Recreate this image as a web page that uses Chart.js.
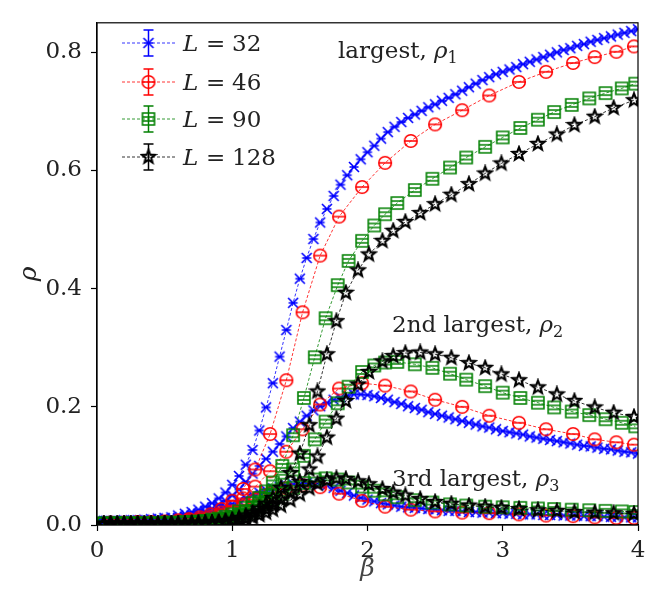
<!DOCTYPE html>
<html>
<head>
<meta charset="utf-8">
<script src="https://cdn.jsdelivr.net/npm/chart.js@4.4.1/dist/chart.umd.min.js"></script>
<style>
  html, body { margin: 0; padding: 0; background: #fff; }
</style>
</head>
<body>
<canvas id="rho-chart" width="654" height="606"></canvas>
<script>
// axis ticks
var xTicks = [0, 1, 2, 3, 4];
var yTicks = [0, 0.2, 0.4, 0.6, 0.8];
var sizes = ['32', '46', '90', '128'];

// L = 32
var beta32 = [0, 0.05, 0.1, 0.15, 0.2, 0.25, 0.3, 0.35, 0.4, 0.45,
    0.5, 0.55, 0.6, 0.65, 0.7, 0.75, 0.8, 0.85, 0.9, 0.95,
    1.0, 1.05, 1.1, 1.15, 1.2, 1.25, 1.3, 1.35, 1.4, 1.45,
    1.5, 1.55, 1.6, 1.65, 1.7, 1.75, 1.8, 1.85, 1.9, 1.95,
    2.0, 2.05, 2.1, 2.15, 2.2, 2.25, 2.3, 2.35, 2.4, 2.45,
    2.5, 2.55, 2.6, 2.65, 2.7, 2.75, 2.8, 2.85, 2.9, 2.95,
    3.0, 3.05, 3.1, 3.15, 3.2, 3.25, 3.3, 3.35, 3.4, 3.45,
    3.5, 3.55, 3.6, 3.65, 3.7, 3.75, 3.8, 3.85, 3.9, 3.95,
    4.0];
var rho1L32 = [0.007, 0.007, 0.007, 0.007, 0.008, 0.008, 0.008, 0.009, 0.010, 0.011,
    0.012, 0.013, 0.016, 0.019, 0.022, 0.026, 0.031, 0.037, 0.045, 0.055,
    0.068, 0.083, 0.102, 0.127, 0.160, 0.199, 0.240, 0.285, 0.330, 0.376,
    0.417, 0.452, 0.484, 0.512, 0.535, 0.557, 0.576, 0.592, 0.606, 0.619,
    0.631, 0.642, 0.654, 0.665, 0.674, 0.682, 0.689, 0.695, 0.701, 0.707,
    0.712, 0.718, 0.723, 0.729, 0.735, 0.741, 0.747, 0.753, 0.758, 0.763,
    0.767, 0.771, 0.775, 0.780, 0.784, 0.788, 0.792, 0.796, 0.800, 0.804,
    0.807, 0.811, 0.814, 0.818, 0.821, 0.824, 0.827, 0.830, 0.833, 0.836,
    0.839];
var rho2L32 = [0.005, 0.005, 0.005, 0.005, 0.006, 0.006, 0.006, 0.007, 0.007, 0.008,
    0.009, 0.010, 0.012, 0.014, 0.016, 0.019, 0.023, 0.028, 0.034, 0.041,
    0.050, 0.060, 0.073, 0.087, 0.100, 0.112, 0.124, 0.137, 0.150, 0.164,
    0.175, 0.185, 0.194, 0.201, 0.207, 0.212, 0.216, 0.219, 0.221, 0.221,
    0.220, 0.218, 0.215, 0.212, 0.208, 0.205, 0.201, 0.198, 0.195, 0.191,
    0.188, 0.185, 0.182, 0.179, 0.176, 0.173, 0.170, 0.167, 0.165, 0.162,
    0.159, 0.157, 0.155, 0.153, 0.150, 0.148, 0.146, 0.144, 0.142, 0.140,
    0.138, 0.136, 0.134, 0.133, 0.131, 0.129, 0.128, 0.126, 0.124, 0.123,
    0.121];
var rho3L32 = [0.004, 0.004, 0.004, 0.004, 0.005, 0.005, 0.005, 0.006, 0.006, 0.007,
    0.008, 0.009, 0.010, 0.012, 0.014, 0.016, 0.019, 0.023, 0.027, 0.031,
    0.036, 0.041, 0.046, 0.051, 0.055, 0.059, 0.062, 0.065, 0.067, 0.069,
    0.070, 0.071, 0.071, 0.070, 0.067, 0.063, 0.058, 0.054, 0.050, 0.046,
    0.043, 0.040, 0.037, 0.035, 0.033, 0.031, 0.030, 0.029, 0.028, 0.027,
    0.026, 0.025, 0.024, 0.024, 0.023, 0.022, 0.022, 0.021, 0.021, 0.020,
    0.020, 0.019, 0.019, 0.018, 0.018, 0.018, 0.017, 0.017, 0.017, 0.016,
    0.016, 0.016, 0.015, 0.015, 0.015, 0.014, 0.014, 0.014, 0.013, 0.013,
    0.013];

// L = 46
var beta46 = [0.1, 0.2, 0.3, 0.4, 0.5, 0.6, 0.68, 0.76, 0.84, 0.92,
    1.0, 1.08, 1.17, 1.28, 1.40, 1.52, 1.65, 1.79, 1.96, 2.13,
    2.32, 2.5, 2.7, 2.9, 3.12, 3.32, 3.52, 3.68, 3.84, 3.97];
var rho1L46 = [0.004, 0.004, 0.005, 0.005, 0.006, 0.008, 0.010, 0.013, 0.018, 0.027,
    0.041, 0.061, 0.094, 0.154, 0.245, 0.360, 0.456, 0.522, 0.572, 0.613,
    0.650, 0.678, 0.702, 0.727, 0.750, 0.767, 0.782, 0.792, 0.801, 0.810];
var rho2L46 = [0.003, 0.003, 0.004, 0.004, 0.005, 0.006, 0.008, 0.010, 0.014, 0.021,
    0.031, 0.045, 0.065, 0.091, 0.124, 0.162, 0.204, 0.231, 0.240, 0.236,
    0.226, 0.212, 0.200, 0.185, 0.173, 0.162, 0.154, 0.145, 0.140, 0.136];
var rho3L46 = [0.002, 0.002, 0.003, 0.003, 0.004, 0.005, 0.006, 0.008, 0.011, 0.016,
    0.023, 0.032, 0.043, 0.054, 0.062, 0.067, 0.064, 0.053, 0.041, 0.031,
    0.026, 0.023, 0.021, 0.020, 0.018, 0.016, 0.015, 0.013, 0.012, 0.012];

// L = 90
var beta90 = [0.05, 0.1, 0.15, 0.2, 0.25, 0.3, 0.35, 0.4, 0.45, 0.5,
    0.55, 0.6, 0.65, 0.7, 0.75, 0.8, 0.85, 0.9, 0.95, 1.0,
    1.05, 1.1, 1.15, 1.2, 1.25, 1.3, 1.37, 1.45, 1.53, 1.61,
    1.69, 1.78, 1.86, 1.96, 2.05, 2.13, 2.22, 2.35, 2.48, 2.61,
    2.73, 2.87, 3.0, 3.13, 3.26, 3.38, 3.51, 3.64, 3.76, 3.88,
    3.98];
var rho1L90 = [0.003, 0.003, 0.003, 0.003, 0.003, 0.003, 0.003, 0.003, 0.003, 0.004,
    0.004, 0.004, 0.005, 0.005, 0.006, 0.007, 0.009, 0.011, 0.014, 0.018,
    0.023, 0.029, 0.037, 0.046, 0.057, 0.072, 0.100, 0.152, 0.215, 0.284,
    0.350, 0.406, 0.447, 0.481, 0.507, 0.526, 0.545, 0.567, 0.586, 0.605,
    0.622, 0.640, 0.656, 0.672, 0.686, 0.699, 0.711, 0.722, 0.731, 0.739,
    0.747];
var rho2L90 = [0.002, 0.002, 0.002, 0.002, 0.002, 0.002, 0.002, 0.002, 0.002, 0.003,
    0.003, 0.003, 0.004, 0.004, 0.005, 0.006, 0.007, 0.009, 0.011, 0.014,
    0.018, 0.023, 0.029, 0.036, 0.045, 0.056, 0.075, 0.094, 0.117, 0.145,
    0.175, 0.206, 0.234, 0.259, 0.270, 0.275, 0.276, 0.272, 0.266, 0.256,
    0.246, 0.235, 0.224, 0.215, 0.207, 0.199, 0.192, 0.186, 0.179, 0.173,
    0.167];
var rho3L90 = [0.002, 0.002, 0.002, 0.002, 0.002, 0.002, 0.002, 0.002, 0.002, 0.002,
    0.002, 0.003, 0.003, 0.003, 0.004, 0.005, 0.006, 0.008, 0.010, 0.012,
    0.015, 0.019, 0.024, 0.030, 0.036, 0.043, 0.053, 0.063, 0.071, 0.077,
    0.079, 0.077, 0.072, 0.065, 0.058, 0.052, 0.047, 0.042, 0.038, 0.035,
    0.033, 0.031, 0.030, 0.029, 0.028, 0.027, 0.026, 0.025, 0.024, 0.023,
    0.022];

// L = 128
var beta128 = [0.05, 0.1, 0.15, 0.2, 0.25, 0.3, 0.35, 0.4, 0.45, 0.5,
    0.55, 0.6, 0.65, 0.7, 0.75, 0.8, 0.85, 0.9, 0.95, 1.0,
    1.05, 1.1, 1.15, 1.2, 1.25, 1.3, 1.36, 1.43, 1.5, 1.57,
    1.63, 1.7, 1.77, 1.84, 1.93, 2.01, 2.11, 2.19, 2.28, 2.39,
    2.5, 2.62, 2.75, 2.87, 2.99, 3.12, 3.26, 3.4, 3.53, 3.68,
    3.82, 3.97];
var rho1L128 = [0.002, 0.002, 0.002, 0.002, 0.002, 0.002, 0.002, 0.002, 0.002, 0.002,
    0.002, 0.002, 0.002, 0.003, 0.003, 0.003, 0.004, 0.005, 0.007, 0.009,
    0.012, 0.016, 0.021, 0.028, 0.036, 0.046, 0.063, 0.088, 0.121, 0.169,
    0.226, 0.289, 0.345, 0.393, 0.431, 0.458, 0.481, 0.498, 0.513, 0.528,
    0.543, 0.559, 0.577, 0.595, 0.612, 0.628, 0.645, 0.661, 0.677, 0.691,
    0.706, 0.719];
var rho2L128 = [0.002, 0.002, 0.002, 0.002, 0.002, 0.002, 0.002, 0.002, 0.002, 0.002,
    0.002, 0.002, 0.002, 0.002, 0.003, 0.003, 0.004, 0.004, 0.005, 0.007,
    0.009, 0.012, 0.016, 0.021, 0.027, 0.034, 0.043, 0.056, 0.073, 0.094,
    0.116, 0.148, 0.180, 0.210, 0.238, 0.259, 0.277, 0.286, 0.291, 0.292,
    0.289, 0.283, 0.274, 0.266, 0.255, 0.245, 0.233, 0.221, 0.210, 0.199,
    0.190, 0.183];
var rho3L128 = [0.001, 0.001, 0.001, 0.001, 0.001, 0.001, 0.001, 0.001, 0.001, 0.001,
    0.001, 0.001, 0.002, 0.002, 0.002, 0.003, 0.003, 0.004, 0.005, 0.006,
    0.008, 0.010, 0.013, 0.017, 0.021, 0.026, 0.033, 0.042, 0.052, 0.062,
    0.070, 0.076, 0.079, 0.078, 0.074, 0.069, 0.061, 0.055, 0.050, 0.044,
    0.039, 0.036, 0.033, 0.031, 0.029, 0.027, 0.025, 0.024, 0.022, 0.021,
    0.020, 0.019];

var colors = ['#0000ff', '#ff0000', '#008000', '#000000'];
var serif = '"DejaVu Serif", serif';

// marker images (x, circle, square, star) with the small errorbar caps inside
function makeMarker(kind, color) {
    var c = document.createElement('canvas');
    c.width = 18;
    c.height = 18;
    var g = c.getContext('2d');
    g.strokeStyle = color;
    g.lineWidth = 1.6;
    g.translate(9, 9);
    g.beginPath();
    if (kind === 'x') {
        g.moveTo(-5, -5); g.lineTo(5, 5);
        g.moveTo(-5, 5); g.lineTo(5, -5);
        g.moveTo(-4.5, 0); g.lineTo(4.5, 0);
    } else if (kind === 'o') {
        g.arc(0, 0, 6.3, 0, Math.PI * 2);
        g.moveTo(-5.5, 0); g.lineTo(5.5, 0);
    } else if (kind === 's') {
        g.rect(-6, -6, 12, 12);
        g.moveTo(-5.5, -2); g.lineTo(5.5, -2);
        g.moveTo(-5.5, 2); g.lineTo(5.5, 2);
    } else {
        g.lineWidth = 2.1;
        for (var i = 0; i < 10; i++) {
            var r = i % 2 ? 2.9 : 6.8;
            var a = -Math.PI / 2 + i * Math.PI / 5;
            if (i === 0) g.moveTo(r * Math.cos(a), r * Math.sin(a));
            else g.lineTo(r * Math.cos(a), r * Math.sin(a));
        }
        g.closePath();
    }
    g.stroke();
    return c;
}

var markers = [
    makeMarker('x', colors[0]),
    makeMarker('o', colors[1]),
    makeMarker('s', colors[2]),
    makeMarker('*', colors[3])
];

function series(xs, ys, k) {
    return {
        data: xs.map(function(x, i) { return { x: x, y: ys[i] }; }),
        showLine: true,
        borderColor: colors[k],
        backgroundColor: colors[k],
        borderWidth: 0.8,
        borderDash: [3, 2],
        pointStyle: markers[k],
        pointRadius: 5,
        order: 4 - k
    };
}

var datasets = [
    series(beta32, rho1L32, 0), series(beta32, rho2L32, 0), series(beta32, rho3L32, 0),
    series(beta46, rho1L46, 1), series(beta46, rho2L46, 1), series(beta46, rho3L46, 1),
    series(beta90, rho1L90, 2), series(beta90, rho2L90, 2), series(beta90, rho3L90, 2),
    series(beta128, rho1L128, 3), series(beta128, rho2L128, 3), series(beta128, rho3L128, 3)
];

function richText(ctx, x, y, parts) {
    parts.forEach(function(p) {
        ctx.font = (p.it ? 'italic ' : '') + (p.sub ? '16px ' : '23px ') + serif;
        ctx.fillText(p.t, x, p.sub ? y + 5 : y);
        x += ctx.measureText(p.t).width;
    });
}

var overlay = {
    id: 'overlay',
    afterDraw: function(chart) {
        var ctx = chart.ctx;
        var a = chart.chartArea;
        ctx.save();
        ctx.strokeStyle = '#000';
        ctx.lineWidth = 1.2;
        ctx.strokeRect(a.left, a.top, a.right - a.left, a.bottom - a.top);

        // legend
        var rows = [43, 82, 119, 157];
        rows.forEach(function(y, k) {
            ctx.strokeStyle = colors[k];
            ctx.lineWidth = 0.8;
            ctx.setLineDash([3, 2]);
            ctx.beginPath();
            ctx.moveTo(122, y); ctx.lineTo(175, y);
            ctx.stroke();
            ctx.setLineDash([]);
            ctx.lineWidth = 1.5;
            ctx.beginPath();
            ctx.moveTo(148.5, y - 13); ctx.lineTo(148.5, y + 13);
            ctx.moveTo(143.5, y - 13); ctx.lineTo(153.5, y - 13);
            ctx.moveTo(143.5, y + 13); ctx.lineTo(153.5, y + 13);
            ctx.stroke();
            ctx.drawImage(markers[k], 148.5 - 9, y - 9);
            ctx.fillStyle = '#222';
            ctx.textBaseline = 'alphabetic';
            ctx.font = 'italic 23px ' + serif;
            ctx.fillText('L', 183, y + 8);
            ctx.font = '23px ' + serif;
            ctx.fillText('=', 206, y + 8);
            ctx.fillText(sizes[k], 232, y + 8);
        });

        // curve labels
        ctx.fillStyle = '#222';
        richText(ctx, 338, 58, [{ t: 'largest, ' }, { t: 'ρ', it: true }, { t: '1', sub: true }]);
        richText(ctx, 392, 332, [{ t: '2nd largest, ' }, { t: 'ρ', it: true }, { t: '2', sub: true }]);
        richText(ctx, 392, 486, [{ t: '3rd largest, ' }, { t: 'ρ', it: true }, { t: '3', sub: true }]);
        ctx.restore();
    }
};

var ctx = document.getElementById('rho-chart').getContext('2d');
var chart = new Chart(ctx, {
    type: 'scatter',
    data: { datasets: datasets },
    options: {
        responsive: false,
        animation: false,
        layout: { padding: { left: 0, right: 16, top: 10, bottom: 0 } },
        plugins: { legend: { display: false }, tooltip: { enabled: false } },
        scales: {
            x: {
                type: 'linear',
                min: 0,
                max: 4,
                afterBuildTicks: function(s) { s.ticks = xTicks.map(function(v) { return { value: v }; }); },
                afterFit: function(s) { s.height = 81; },
                grid: { drawOnChartArea: false, drawTicks: true, tickLength: 6, tickWidth: 1.2, tickColor: '#000' },
                border: { display: true, color: '#000', width: 1.2 },
                ticks: {
                    color: '#222',
                    font: { family: serif, size: 23 },
                    padding: 6,
                    maxRotation: 0,
                    callback: function(v) { return String(v); }
                },
                title: {
                    display: true,
                    text: 'β',
                    color: '#444',
                    font: { family: serif, size: 25, style: 'italic' },
                    padding: { top: 0, bottom: 22 }
                }
            },
            y: {
                type: 'linear',
                min: 0,
                max: 0.85,
                afterBuildTicks: function(s) { s.ticks = yTicks.map(function(v) { return { value: v }; }); },
                afterFit: function(s) { s.width = 97; },
                grid: { drawOnChartArea: false, drawTicks: true, tickLength: 6, tickWidth: 1.2, tickColor: '#000' },
                border: { display: true, color: '#000', width: 1.2 },
                ticks: {
                    color: '#222',
                    font: { family: serif, size: 23 },
                    padding: 9,
                    callback: function(v) { return v.toFixed(1); }
                },
                title: {
                    display: true,
                    text: 'ρ',
                    color: '#222',
                    font: { family: serif, size: 25, style: 'italic' },
                    padding: { top: 14, bottom: 0 }
                }
            }
        }
    },
    plugins: [overlay]
});
</script>
</body>
</html>
